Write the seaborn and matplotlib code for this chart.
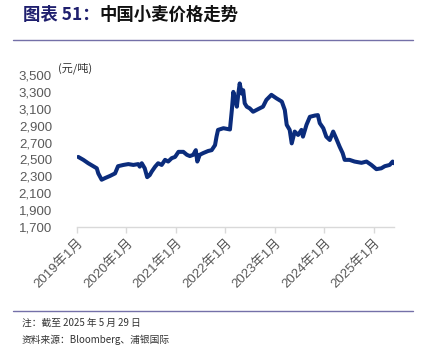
import matplotlib
matplotlib.use("Agg")
import matplotlib.pyplot as plt
import seaborn as sns
import pandas as pd
from matplotlib.transforms import offset_copy

dates = [
    "2019-01-10", "2019-02-17", "2019-03-25", "2019-05-01", "2019-05-27", "2019-06-07",
    "2019-07-02", "2019-07-28", "2019-09-02", "2019-10-09", "2019-10-31", "2019-12-10",
    "2020-01-15", "2020-02-21", "2020-03-28", "2020-04-08", "2020-04-23", "2020-05-15",
    "2020-06-02", "2020-06-21", "2020-07-05", "2020-07-31", "2020-08-22", "2020-09-17",
    "2020-10-12", "2020-11-04", "2020-11-30", "2020-12-25", "2021-01-19", "2021-02-24",
    "2021-03-22", "2021-04-13", "2021-05-08", "2021-05-27", "2021-06-07", "2021-06-25",
    "2021-07-20", "2021-08-26", "2021-09-21", "2021-10-16", "2021-10-27", "2021-11-07",
    "2021-12-17", "2022-02-03", "2022-02-17", "2022-02-28", "2022-03-11", "2022-03-26",
    "2022-04-06", "2022-04-16", "2022-05-01", "2022-05-12", "2022-05-23", "2022-06-07",
    "2022-06-29", "2022-07-24", "2022-08-29", "2022-10-05", "2022-10-30", "2022-12-06",
    "2023-01-11", "2023-02-21", "2023-03-15", "2023-03-29", "2023-04-20", "2023-05-05",
    "2023-05-27", "2023-06-21", "2023-07-16", "2023-07-27", "2023-08-22", "2023-09-16",
    "2023-10-23", "2023-11-14", "2023-11-28", "2023-12-24", "2024-01-15", "2024-02-10",
    "2024-03-06", "2024-03-28", "2024-04-23", "2024-05-15", "2024-05-30", "2024-07-05",
    "2024-08-11", "2024-10-01", "2024-11-07", "2024-12-13", "2025-01-19", "2025-02-24",
    "2025-03-22", "2025-04-27", "2025-05-19", "2025-05-29",
]
prices = [
    2530, 2495, 2455, 2420, 2395, 2335,
    2260, 2280, 2305, 2335, 2420, 2435,
    2445, 2435, 2445, 2415, 2455, 2395,
    2290, 2315, 2355, 2415, 2455, 2435,
    2495, 2475, 2515, 2530, 2590, 2590,
    2555, 2540, 2555, 2610, 2475, 2555,
    2575, 2600, 2610, 2670, 2770, 2850,
    2870, 2855, 3085, 3300, 3225, 3125,
    3280, 3400, 3280, 3320, 3165, 3125,
    3105, 3065, 3095, 3125, 3205, 3265,
    3225, 3185, 3085, 2910, 2850, 2690,
    2830, 2790, 2850, 2770, 2910, 3005,
    3020, 3025, 2930, 2870, 2770, 2730,
    2830, 2750, 2650, 2575, 2495, 2495,
    2475, 2460, 2475, 2435, 2385, 2395,
    2420, 2435, 2475, 2455,
]
y_ticks = [1700, 1900, 2100, 2300, 2500, 2700, 2900, 3100, 3300, 3500]
x_tick_dates = ["2019-01-01", "2020-01-01", "2021-01-01", "2022-01-01",
                "2023-01-01", "2024-01-01", "2025-01-01"]
x_tick_labels = ["2019年1月", "2020年1月", "2021年1月", "2022年1月",
                 "2023年1月", "2024年1月", "2025年1月"]

df = pd.DataFrame({"date": pd.to_datetime(dates), "price": prices})

sns.set_theme(style="white")
plt.rcParams["font.family"] = ["Liberation Sans", "Noto Sans CJK SC", "DejaVu Sans"]

fig = plt.figure(figsize=(4.26, 3.46), dpi=100)
ax = fig.add_axes([77 / 426, 1 - 227 / 346, (394 - 77) / 426, (227 - 75) / 346])

sns.lineplot(data=df, x="date", y="price", ax=ax, color="#0B2C7C", linewidth=2.9)

ax.set_xlim(pd.Timestamp("2019-01-01"), pd.Timestamp("2025-05-29"))
ax.set_ylim(1700, 3500)
ax.set_yticks(y_ticks)
ax.set_yticklabels([f"{v:,}" for v in y_ticks], color="#595959", fontsize=9.5)
ax.set_xticks(pd.to_datetime(x_tick_dates))
ax.set_xticklabels(x_tick_labels, rotation=45, ha="right", rotation_mode="anchor",
                   color="#595959", fontsize=9.5)
ax.set_xlabel("")
ax.set_ylabel("")
for s in ["top", "right", "left"]:
    ax.spines[s].set_visible(False)
ax.spines["bottom"].set_color("#D9D9D9")
ax.spines["bottom"].set_linewidth(1.0)
ax.tick_params(axis="x", which="both", bottom=True, length=4, width=1.0,
               color="#D9D9D9", pad=3)
ax.tick_params(axis="y", left=False, pad=12)
ax.grid(False)

tr = offset_copy(ax.transAxes, fig=fig, x=-19, y=7, units="dots")
ax.text(0.0, 1.0, "(元/吨)", transform=tr, fontsize=8,
        color="#333333", ha="left", va="center", family=["Noto Sans CJK SC"])

# Title
t1 = fig.text(23 / 426, 1 - 15 / 346, "图表 51：", fontsize=12.5, fontweight="bold",
              color="#1F1F6E", ha="left", va="center", family=["Noto Sans CJK SC"])
fig.canvas.draw()
bb = t1.get_window_extent()
fig.text(bb.x1 / fig.bbox.width, 1 - 15 / 346, "中国小麦价格走势", fontsize=12.5,
         fontweight="bold", color="#111111", ha="left", va="center",
         family=["Noto Sans CJK SC"])

# Rules
fig.add_artist(plt.Line2D([13 / 426, 413 / 426], [1 - 40 / 346, 1 - 40 / 346],
                          color="#7470A8", linewidth=1.0))
fig.add_artist(plt.Line2D([13 / 426, 413 / 426], [1 - 311 / 346, 1 - 311 / 346],
                          color="#7470A8", linewidth=1.0))

fig.text(22 / 426, 1 - 323 / 346, "注：截至 2025 年 5 月 29 日", fontsize=7,
         color="#333333", ha="left", va="center", family=["Noto Sans CJK SC"])
fig.text(22 / 426, 1 - 340 / 346, "资料来源：Bloomberg、浦银国际", fontsize=7,
         color="#333333", ha="left", va="center", family=["Noto Sans CJK SC"])

fig.savefig("out.png", dpi=100, facecolor="white")
